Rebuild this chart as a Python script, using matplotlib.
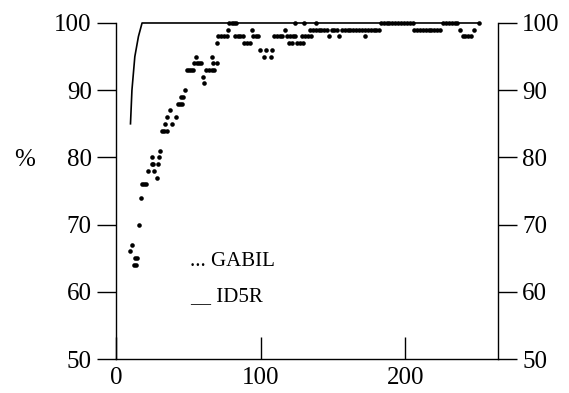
import matplotlib
matplotlib.use("Agg")
import matplotlib.pyplot as plt

# GABIL prediction accuracy (dots)
gabil_x = [10, 11, 12.5, 14, 13, 14.5,
           16, 17, 18, 19.5, 21, 22.3, 24.6, 25.8, 24.6, 26.5, 28, 28.8, 29.7, 30.6,
           31.6, 33.3, 35, 33.9, 35.4, 37, 39, 41.3, 42.6, 44, 45.4, 44.6, 46.1, 47.4,
           48.9, 50.4, 51.9, 53.4, 54, 55.7, 57.4, 59, 55.4, 60, 61, 62.2, 64.2, 66.1,
           67.7, 66.1, 67.3, 69.6, 70, 70.7, 72.6, 74.6, 76.5, 77.2, 78.2, 80, 81.5, 83,
           82.4, 84.2, 86, 88, 88.8, 90.8, 92.7, 93.8, 94.5, 96.5, 98.3,
           99.7, 102, 103.8, 107, 107.7,
           109, 111, 113, 115, 118, 120, 122, 124, 117, 119.5, 121.5, 125, 127, 129.5,
           124, 130, 128.5, 130.5, 132.5, 134.5, 138,
           134, 136, 138, 140, 142, 144, 146, 149, 151, 153,
           156, 158, 160, 162, 164, 166, 168, 170, 172, 174, 176, 178, 180, 182,
           147, 154, 172.3,
           183, 185, 187, 189, 191, 193, 195, 197, 199, 201, 203, 205,
           206, 208, 210, 212, 214, 216, 218, 220, 222, 224,
           226, 228, 230, 232, 234, 236, 238,
           239.5, 241.5, 243.5, 245.5, 247.5, 251]
gabil_y = [66, 67, 64, 64, 65, 65,
           70, 74, 76, 76, 76, 78, 79, 79, 80, 78, 77, 79, 80, 81,
           84, 84, 84, 85, 86, 87, 85, 86, 88, 88, 88, 89, 89, 90,
           93, 93, 93, 93, 94, 94, 94, 94, 95, 92, 91, 93, 93, 93,
           93, 95, 94, 94, 97, 98, 98, 98, 98, 99, 100, 100, 100, 100,
           98, 98, 98, 98, 97, 97, 97, 99, 98, 98, 98,
           96, 95, 96, 95, 96,
           98, 98, 98, 98, 98, 98, 98, 98, 99, 97, 97, 97, 97, 97,
           100, 100, 98, 98, 98, 98, 100,
           99, 99, 99, 99, 99, 99, 99, 99, 99, 99,
           99, 99, 99, 99, 99, 99, 99, 99, 99, 99, 99, 99, 99, 99,
           98, 98, 98,
           100, 100, 100, 100, 100, 100, 100, 100, 100, 100, 100, 100,
           99, 99, 99, 99, 99, 99, 99, 99, 99, 99,
           100, 100, 100, 100, 100, 100, 99,
           98, 98, 98, 98, 99, 100]

# ID5R prediction accuracy (line)
id5r_x = [10, 11, 13, 15.5, 18, 251]
id5r_y = [85, 90, 95, 98, 100, 100]

x_ticks = [0, 100, 200]
y_ticks = [50, 60, 70, 80, 90, 100]

serif = "Liberation Serif"

fig = plt.figure(figsize=(5.69, 3.93), dpi=100)
ax = fig.add_axes([0.2039, 0.0865, 0.6713, 0.855])

ax.plot(id5r_x, id5r_y, color="black", lw=1.2, clip_on=False, zorder=2)
ax.plot(gabil_x, gabil_y, linestyle="none", marker="o", ms=3.3, color="black",
        markeredgewidth=0, clip_on=False, zorder=3)

ax.set_xlim(0, 264)
ax.set_ylim(50, 100)
ax.set_xticks(x_ticks)
ax.set_yticks(y_ticks)

for s in ["left", "right", "bottom"]:
    ax.spines[s].set_linewidth(1.0)
    ax.spines[s].set_color("black")
ax.spines["top"].set_visible(False)

ax.tick_params(axis="y", which="both", direction="out", length=13.5, width=1.0,
               left=True, right=True, labelleft=True, labelright=True, pad=4,
               labelsize=18)
ax.tick_params(axis="x", direction="in", length=16, width=1.0, pad=6, labelsize=18)

for t in ax.yaxis.get_major_ticks():
    t.label1.set_fontfamily(serif)
    t.label2.set_fontfamily(serif)
for t in ax.xaxis.get_major_ticks():
    t.label1.set_fontfamily(serif)

fig.text(25 / 569, 1 - 160 / 393, "%", family=serif, fontsize=18,
         ha="center", va="center")
fig.text(190 / 569, 1 - 262 / 393, "... GABIL", family=serif, fontsize=15,
         ha="left", va="center")
fig.text(190 / 569, 1 - 297 / 393, "__ ID5R", family=serif, fontsize=15,
         ha="left", va="center")

fig.savefig("out.png", dpi=100)
